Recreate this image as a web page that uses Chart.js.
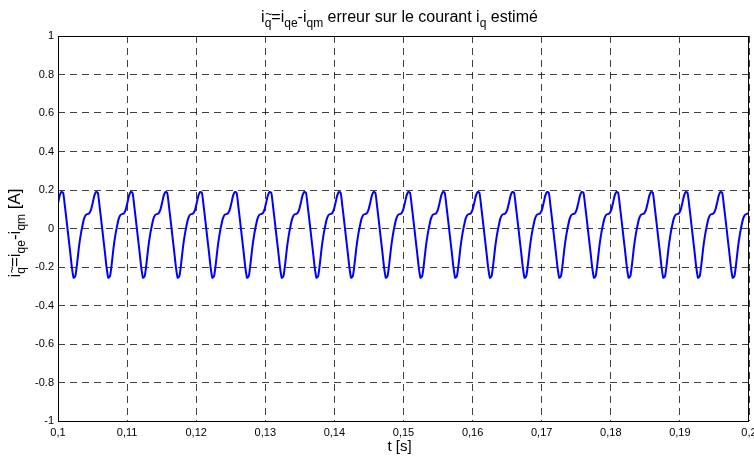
<!DOCTYPE html>
<html>
<head>
<meta charset="utf-8">
<script src="https://cdn.jsdelivr.net/npm/chart.js@4.4.0/dist/chart.umd.min.js"></script>
<style>
  html, body { margin: 0; padding: 0; background: #fff; }
  #wrap { width: 754px; height: 457px; }
</style>
</head>
<body>
<div id="wrap"><canvas id="main-chart" width="754" height="457"></canvas></div>
<script>
// sampling grid of the recorded signal (s)
const tStart = 0.1;
const tStep = 0.000251;

// estimation error on i_q [A] (one row per period)
const iqError = [
  0.133, 0.172, 0.190, 0.185, 0.114, 0.037, -0.042, -0.120, -0.202, -0.256, -0.247, -0.182, -0.102, -0.038, 0.010, 0.050, 0.070, 0.075, 0.079, 0.097,
  0.133, 0.172, 0.190, 0.185, 0.114, 0.037, -0.042, -0.120, -0.202, -0.256, -0.247, -0.182, -0.102, -0.038, 0.010, 0.050, 0.070, 0.075, 0.079, 0.097,
  0.133, 0.172, 0.190, 0.185, 0.114, 0.037, -0.042, -0.120, -0.202, -0.256, -0.247, -0.182, -0.102, -0.038, 0.010, 0.050, 0.070, 0.075, 0.079, 0.097,
  0.133, 0.172, 0.190, 0.185, 0.114, 0.037, -0.042, -0.120, -0.202, -0.256, -0.247, -0.182, -0.102, -0.038, 0.010, 0.050, 0.070, 0.075, 0.079, 0.097,
  0.133, 0.172, 0.190, 0.185, 0.114, 0.037, -0.042, -0.120, -0.202, -0.256, -0.247, -0.182, -0.102, -0.038, 0.010, 0.050, 0.070, 0.075, 0.079, 0.097,
  0.133, 0.172, 0.190, 0.185, 0.114, 0.037, -0.042, -0.120, -0.202, -0.256, -0.247, -0.182, -0.102, -0.038, 0.010, 0.050, 0.070, 0.075, 0.079, 0.097,
  0.133, 0.172, 0.190, 0.185, 0.114, 0.037, -0.042, -0.120, -0.202, -0.256, -0.247, -0.182, -0.102, -0.038, 0.010, 0.050, 0.070, 0.075, 0.079, 0.097,
  0.133, 0.172, 0.190, 0.185, 0.114, 0.037, -0.042, -0.120, -0.202, -0.256, -0.247, -0.182, -0.102, -0.038, 0.010, 0.050, 0.070, 0.075, 0.079, 0.097,
  0.133, 0.172, 0.190, 0.185, 0.114, 0.037, -0.042, -0.120, -0.202, -0.256, -0.247, -0.182, -0.102, -0.038, 0.010, 0.050, 0.070, 0.075, 0.079, 0.097,
  0.133, 0.172, 0.190, 0.185, 0.114, 0.037, -0.042, -0.120, -0.202, -0.256, -0.247, -0.182, -0.102, -0.038, 0.010, 0.050, 0.070, 0.075, 0.079, 0.097,
  0.133, 0.172, 0.190, 0.185, 0.114, 0.037, -0.042, -0.120, -0.202, -0.256, -0.247, -0.182, -0.102, -0.038, 0.010, 0.050, 0.070, 0.075, 0.079, 0.097,
  0.133, 0.172, 0.190, 0.185, 0.114, 0.037, -0.042, -0.120, -0.202, -0.256, -0.247, -0.182, -0.102, -0.038, 0.010, 0.050, 0.070, 0.075, 0.079, 0.097,
  0.133, 0.172, 0.190, 0.185, 0.114, 0.037, -0.042, -0.120, -0.202, -0.256, -0.247, -0.182, -0.102, -0.038, 0.010, 0.050, 0.070, 0.075, 0.079, 0.097,
  0.133, 0.172, 0.190, 0.185, 0.114, 0.037, -0.042, -0.120, -0.202, -0.256, -0.247, -0.182, -0.102, -0.038, 0.010, 0.050, 0.070, 0.075, 0.079, 0.097,
  0.133, 0.172, 0.190, 0.185, 0.114, 0.037, -0.042, -0.120, -0.202, -0.256, -0.247, -0.182, -0.102, -0.038, 0.010, 0.050, 0.070, 0.075, 0.079, 0.097,
  0.133, 0.172, 0.190, 0.185, 0.114, 0.037, -0.042, -0.120, -0.202, -0.256, -0.247, -0.182, -0.102, -0.038, 0.010, 0.050, 0.070, 0.075, 0.079, 0.097,
  0.133, 0.172, 0.190, 0.185, 0.114, 0.037, -0.042, -0.120, -0.202, -0.256, -0.247, -0.182, -0.102, -0.038, 0.010, 0.050, 0.070, 0.075, 0.079, 0.097,
  0.133, 0.172, 0.190, 0.185, 0.114, 0.037, -0.042, -0.120, -0.202, -0.256, -0.247, -0.182, -0.102, -0.038, 0.010, 0.050, 0.070, 0.075, 0.079, 0.097,
  0.133, 0.172, 0.190, 0.185, 0.114, 0.037, -0.042, -0.120, -0.202, -0.256, -0.247, -0.182, -0.102, -0.038, 0.010, 0.050, 0.070, 0.075, 0.079, 0.097,
  0.133, 0.172, 0.190, 0.185, 0.114, 0.037, -0.042, -0.120, -0.202, -0.256, -0.247, -0.182, -0.102, -0.038, 0.010, 0.050, 0.070, 0.075, 0.079, 0.097
];

const xTickValues = [0.1, 0.11, 0.12, 0.13, 0.14, 0.15, 0.16, 0.17, 0.18, 0.19, 0.2];
const xTickLabels = ['0,1', '0,11', '0,12', '0,13', '0,14', '0,15', '0,16', '0,17', '0,18', '0,19', '0,2'];
const yTickValues = [-1, -0.8, -0.6, -0.4, -0.2, 0, 0.2, 0.4, 0.6, 0.8, 1];
const yTickLabels = ['-1', '-0.8', '-0.6', '-0.4', '-0.2', '0', '0.2', '0.4', '0.6', '0.8', '1'];

const titleParts = [
  { t: 'i' }, { tl: '~', s: 'q' }, { t: '=i' }, { s: 'qe' }, { t: '-i' }, { s: 'qm' },
  { t: ' erreur sur le courant i' }, { s: 'q' }, { t: ' estimé' }
];
const yLabelParts = [
  { t: 'i' }, { tl: '~', s: 'q' }, { t: '=i' }, { s: 'qe' }, { t: '-i' }, { s: 'qm' }, { t: ' [A]' }
];

const fontFamily = 'px "Liberation Sans", Arial, sans-serif';

function richWidth(ctx, parts, size, subSize) {
  let w = 0;
  parts.forEach((p) => {
    if (p.t) { ctx.font = size + fontFamily; w += ctx.measureText(p.t).width; }
    if (p.s) { ctx.font = subSize + fontFamily; w += ctx.measureText(p.s).width; }
  });
  return w;
}

function drawRich(ctx, parts, x, y, size, subSize) {
  ctx.textAlign = 'left';
  ctx.textBaseline = 'alphabetic';
  parts.forEach((p) => {
    if (p.t) {
      ctx.font = size + fontFamily;
      ctx.fillText(p.t, x, y);
      x += ctx.measureText(p.t).width;
    }
    if (p.tl) {
      // tilde sits above the subscript, next to the i
      ctx.font = subSize + fontFamily;
      ctx.fillText(p.tl, x + 0.5, y - size * 0.22);
    }
    if (p.s) {
      ctx.font = subSize + fontFamily;
      ctx.fillText(p.s, x, y + size * 0.3);
      x += ctx.measureText(p.s).width;
    }
  });
}

// box around the axes + title and axis labels (with subscripts)
const frameAndText = {
  id: 'frameAndText',
  afterDraw(chart) {
    const ctx = chart.ctx;
    const a = chart.chartArea;
    ctx.save();
    ctx.strokeStyle = '#000';
    ctx.lineWidth = 1;
    ctx.setLineDash([]);
    ctx.strokeRect(a.left + 0.5, a.top + 0.5, a.right - a.left - 1, a.bottom - a.top);
    ctx.fillStyle = '#000';

    const cx = (a.left + a.right) / 2 - 4;
    const tw = richWidth(ctx, titleParts, 16, 12);
    drawRich(ctx, titleParts, cx - tw / 2, 22, 16, 12);

    ctx.font = '15' + fontFamily;
    ctx.textAlign = 'center';
    ctx.textBaseline = 'alphabetic';
    ctx.fillText('t [s]', cx, 451);

    const yw = richWidth(ctx, yLabelParts, 17, 12);
    ctx.translate(20, 233);
    ctx.rotate(-Math.PI / 2);
    drawRich(ctx, yLabelParts, -yw / 2, 0, 17, 12);
    ctx.restore();
  }
};

let mainChart;

document.addEventListener('DOMContentLoaded', function () {
  setupMainChart();
});

function setupMainChart() {
  const points = iqError.map((v, i) => ({ x: tStart + i * tStep, y: v }));
  const ctx = document.getElementById('main-chart').getContext('2d');
  mainChart = new Chart(ctx, {
    type: 'line',
    data: {
      datasets: [
        {
          data: points,
          borderColor: '#0000ff',
          borderWidth: 2,
          pointRadius: 0,
          tension: 0.2,
          fill: false,
        },
      ],
    },
    options: {
      responsive: false,
      animation: false,
      devicePixelRatio: 1,
      layout: { padding: { top: 36, right: 5, left: 0, bottom: 0 } },
      scales: {
        x: {
          type: 'linear',
          min: 0.1,
          max: 0.2,
          afterBuildTicks: (scale) => {
            scale.ticks = xTickValues.map((v) => ({ value: v }));
          },
          afterFit: (scale) => {
            scale.height = 36;
            scale.paddingLeft = 0;
            scale.paddingRight = 0;
          },
          ticks: {
            autoSkip: false,
            maxRotation: 0,
            padding: 5,
            color: '#000',
            font: { family: '"Liberation Sans", Arial, sans-serif', size: 11 },
            callback: (v, i) => xTickLabels[i],
          },
          grid: { color: 'rgba(0,0,0,0.75)', lineWidth: 1, drawTicks: false },
          border: { display: false, dash: [7, 5] },
        },
        y: {
          type: 'linear',
          min: -1,
          max: 1,
          afterBuildTicks: (scale) => {
            scale.ticks = yTickValues.map((v) => ({ value: v }));
          },
          afterFit: (scale) => {
            scale.width = 58;
            scale.paddingTop = 0;
            scale.paddingBottom = 0;
          },
          ticks: {
            autoSkip: false,
            padding: 4,
            color: '#000',
            font: { family: '"Liberation Sans", Arial, sans-serif', size: 11 },
            callback: (v, i) => yTickLabels[i],
          },
          grid: { color: 'rgba(0,0,0,0.75)', lineWidth: 1, drawTicks: false },
          border: { display: false, dash: [7, 5] },
        },
      },
      plugins: {
        legend: { display: false },
        tooltip: { enabled: false },
      },
    },
    plugins: [frameAndText],
  });
}
</script>
</body>
</html>
